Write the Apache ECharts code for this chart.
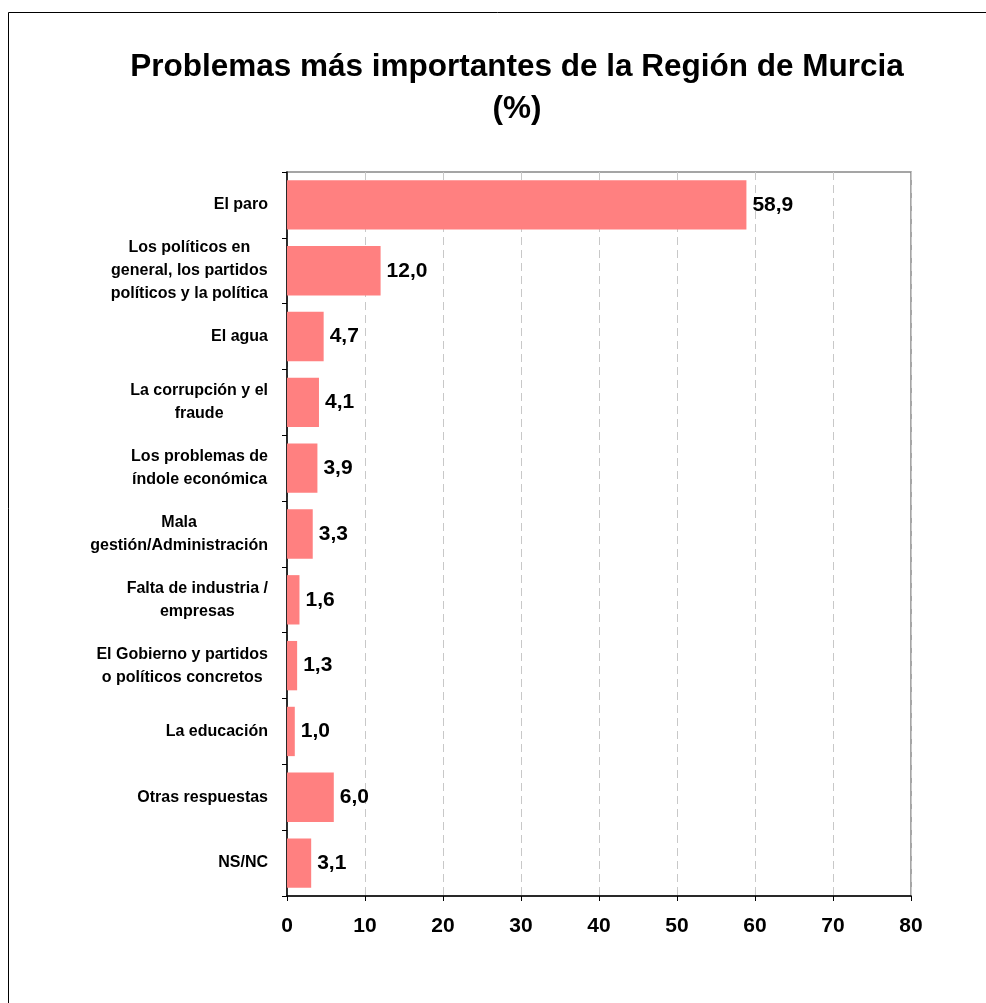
<!DOCTYPE html>
<html>
<head>
<meta charset="utf-8">
<script src="https://cdn.jsdelivr.net/npm/echarts@6/dist/echarts.min.js"></script>
<style>
  html, body { margin: 0; padding: 0; background: #fff; }
  #chart { width: 986px; height: 1003px; }
</style>
</head>
<body>
<div id="chart"></div>
<script>
// categorías (de arriba abajo)
var categories = [
  'El paro',
  'Los políticos en\ngeneral, los partidos\npolíticos y la política',
  'El agua',
  'La corrupción y el\nfraude',
  'Los problemas de\níndole económica',
  'Mala\ngestión/Administración',
  'Falta de industria /\nempresas',
  'El Gobierno y partidos\no políticos concretos',
  'La educación',
  'Otras respuestas',
  'NS/NC'
]
// porcentajes
var values = [58.9, 12.0, 4.7, 4.1, 3.9, 3.3, 1.6, 1.3, 1.0, 6.0, 3.1]
// eje x
var xMin = 0
var xMax = 80
var xStep = 10

var font = '"Liberation Sans", Arial, sans-serif'
var chart = echarts.init(document.getElementById('chart'))

var options = {
  backgroundColor: '#fff',
  animation: false,
  title: {
    text: 'Problemas más importantes de la Región de Murcia\n(%)',
    left: 512,
    top: 41,
    textAlign: 'center',
    textStyle: {
      fontFamily: font,
      fontSize: 31.5,
      fontWeight: 'bold',
      color: '#000',
      lineHeight: 42
    }
  },
  // marco exterior
  graphic: [{
    type: 'rect',
    shape: { x: 8.5, y: 12.5, width: 1200, height: 1200 },
    style: { fill: 'none', stroke: '#000', lineWidth: 1 },
    silent: true
  }],
  grid: {
    left: 287,
    right: 75,
    top: 172,
    bottom: 107,
    show: true,
    borderColor: '#888',
    borderWidth: 1.5
  },
  xAxis: {
    type: 'value',
    min: xMin,
    max: xMax,
    interval: xStep,
    axisLine: { show: true, lineStyle: { color: '#000', width: 1.5 } },
    axisTick: { show: true, length: 5, lineStyle: { color: '#000' } },
    axisLabel: {
      margin: 20,
      fontFamily: font,
      fontSize: 21,
      fontWeight: 'bold',
      color: '#000'
    },
    splitLine: {
      show: true,
      lineStyle: { color: '#c8c8c8', type: [8, 5], width: 1 }
    }
  },
  yAxis: {
    type: 'category',
    data: categories,
    inverse: true,
    axisLine: { show: true, lineStyle: { color: '#000', width: 1.5 } },
    axisTick: { show: true, length: 5, lineStyle: { color: '#000' } },
    axisLabel: {
      margin: 19,
      align: 'right',
      formatter: function (v) {
        // cada línea centrada dentro del bloque
        return v.split('\n').map(function (l) { return '{c|' + l + '}' }).join('\n')
      },
      rich: {
        c: {
          align: 'center',
          fontFamily: font,
          fontSize: 16,
          fontWeight: 'bold',
          color: '#000',
          lineHeight: 23
        }
      }
    }
  },
  series: [{
    type: 'bar',
    data: values,
    barCategoryGap: '25%',
    itemStyle: { color: '#ff8080' },
    label: {
      show: true,
      position: 'right',
      distance: 6,
      fontFamily: font,
      fontSize: 21,
      fontWeight: 'bold',
      color: '#000',
      formatter: function (p) {
        return p.value.toFixed(1).replace('.', ',')
      }
    }
  }]
}

chart.setOption(options)
</script>
</body>
</html>
